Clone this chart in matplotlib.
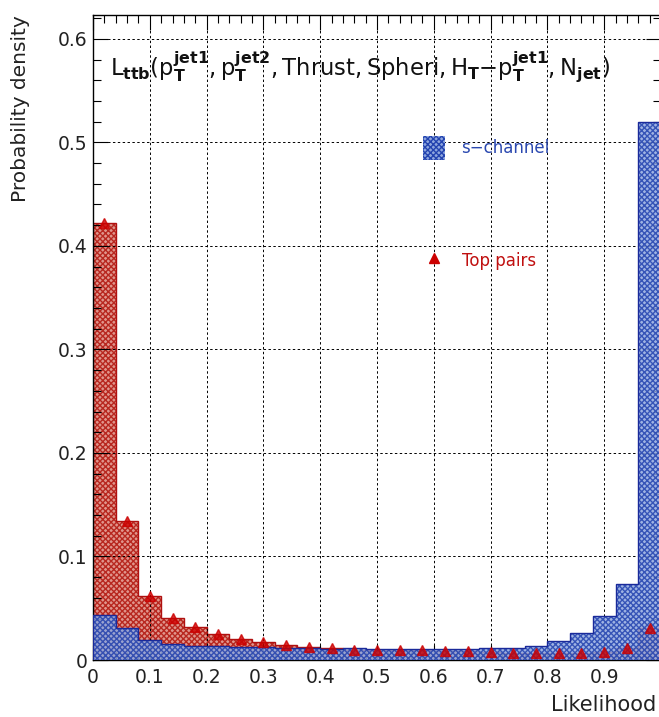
import numpy as np
import matplotlib
matplotlib.use("Agg")
import matplotlib.pyplot as plt
from matplotlib.patches import Patch
from matplotlib.lines import Line2D
from matplotlib.ticker import MultipleLocator

# 25 bins of width 0.04 on [0, 1]
bin_edges = np.linspace(0.0, 1.0, 26)

# Top pairs (ttbar) likelihood distribution
top_pairs = [0.422, 0.134, 0.062, 0.041, 0.032, 0.025, 0.020, 0.017, 0.0145, 0.013,
             0.0113, 0.0100, 0.0097, 0.0095, 0.0092, 0.0088, 0.0085, 0.0075, 0.0070, 0.0064,
             0.0064, 0.0068, 0.0080, 0.0120, 0.0306]

# s-channel single top
s_channel = [0.0435, 0.031, 0.019, 0.0155, 0.0140, 0.0135, 0.0130, 0.0125, 0.0120, 0.0115,
             0.0110, 0.0120, 0.0106, 0.0110, 0.0110, 0.0105, 0.0105, 0.0113, 0.0120, 0.0140,
             0.0187, 0.0264, 0.0425, 0.073, 0.520]

plt.rcParams['hatch.linewidth'] = 1.0
plt.rcParams['mathtext.fontset'] = 'dejavusans'

fig = plt.figure(figsize=(6.59, 7.17), dpi=100)
ax = fig.add_axes([93 / 659, 57 / 717, 568 / 659, 645 / 717])

red_fill = '#e0958c'
red_hatch = '#b82820'
red_line = '#b01010'
blue_fill = '#8ea6de'
blue_hatch = '#2444b0'
blue_line = '#1a2a9a'

# red histogram
ax.stairs(top_pairs, bin_edges, fill=True, facecolor=red_fill, edgecolor=red_hatch,
          hatch='xxxxxx', linewidth=0, zorder=1)
ax.stairs(top_pairs, bin_edges, color=red_line, linewidth=1.0, zorder=1.5)

# blue histogram, partly see-through like ROOT pattern fill
ax.stairs(s_channel, bin_edges, fill=True, facecolor=blue_fill, edgecolor=blue_hatch,
          hatch='xxxxxx', linewidth=0, alpha=0.85, zorder=3)
ax.stairs(s_channel, bin_edges, color=blue_line, linewidth=1.0, zorder=3.5)

# red markers at bin centres
centers = 0.5 * (bin_edges[:-1] + bin_edges[1:])
ax.plot(centers, top_pairs, linestyle='none', marker='^', markersize=6.5,
        color='#cc0000', alpha=0.8, zorder=4)

ax.set_xlim(0, 1.0)
ax.set_ylim(0, 0.623)

ax.xaxis.set_minor_locator(MultipleLocator(0.02))
ax.yaxis.set_minor_locator(MultipleLocator(0.02))
ax.set_xticks(np.arange(0, 1.0, 0.1))
ax.set_xticklabels(['0', '0.1', '0.2', '0.3', '0.4', '0.5', '0.6', '0.7', '0.8', '0.9'])
ax.set_yticks(np.arange(0, 0.61, 0.1))
ax.set_yticklabels(['0', '0.1', '0.2', '0.3', '0.4', '0.5', '0.6'])

ax.tick_params(which='both', direction='in', top=True, right=True, labelsize=13.5,
               colors='black')
ax.tick_params(which='major', length=11, width=0.8)
ax.tick_params(which='minor', length=6, width=0.8)
ax.tick_params(axis='x', pad=6)
ax.tick_params(axis='y', pad=4)
for lbl in ax.get_xticklabels() + ax.get_yticklabels():
    lbl.set_color('#222222')

ax.grid(True, which='major', color='black', linestyle=(0, (2.5, 2.5)), linewidth=0.7)
ax.set_axisbelow(False)
for sp in ax.spines.values():
    sp.set_linewidth(1.0)

ax.set_ylabel('Probability density', fontsize=14.5, color='#222222')
ax.yaxis.set_label_coords(-0.128, 1.0)
ax.yaxis.label.set_va('center')
ax.yaxis.label.set_ha('right')
ax.set_xlabel('Likelihood', fontsize=15, color='#222222')
ax.xaxis.set_label_coords(0.992, -0.069)
ax.xaxis.label.set_ha('right')
ax.xaxis.label.set_va('center')

title = (r'$\mathregular{L_{\mathbf{ttb}}(p_{\mathbf{T}}^{\mathbf{jet1}},'
         r'p_{\mathbf{T}}^{\mathbf{jet2}},Thrust,Spheri,H_{\mathbf{T}}{-}'
         r'p_{\mathbf{T}}^{\mathbf{jet1}},N_{\mathbf{jet}})}$')
ax.text(0.03, 0.92, title, transform=ax.transAxes, fontsize=16.3, va='center', ha='left',
        color='#111111')

handles = [Patch(facecolor=blue_fill, edgecolor=blue_hatch, hatch='xxxxxx', linewidth=0),
           Line2D([], [], linestyle='none', marker='^', markersize=6.5, color='#cc0000')]
leg = ax.legend(handles, ['s\u2212channel', 'Top pairs'], loc='upper left',
                bbox_to_anchor=(0.554, 0.836), frameon=False, fontsize=12,
                handlelength=1.33, handleheight=1.86, handletextpad=1.0,
                labelspacing=5.33, numpoints=1)
for txt, c in zip(leg.get_texts(), ['#2a48b0', '#c01010']):
    txt.set_color(c)

fig.savefig('out.png', dpi=100)
